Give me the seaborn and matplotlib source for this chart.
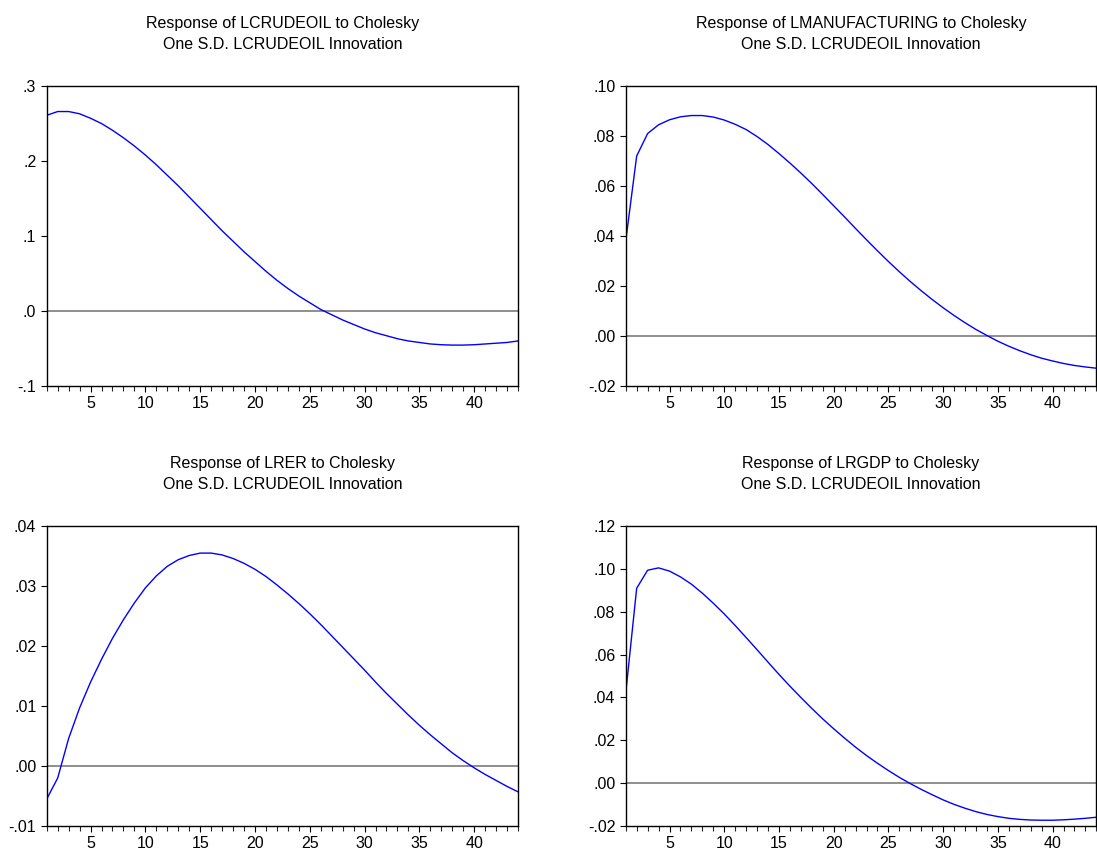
import numpy as np
import pandas as pd
import matplotlib
matplotlib.use("Agg")
import matplotlib.pyplot as plt
import seaborn as sns
from matplotlib.ticker import FuncFormatter, MultipleLocator

# Horizontes (periodos)
periods = list(range(1, 45))

# Respostas ao impulso
lcrudeoil = [0.261, 0.266, 0.266, 0.263, 0.257, 0.250, 0.241, 0.231, 0.220, 0.208,
             0.195, 0.181, 0.167, 0.152, 0.137, 0.122, 0.107, 0.093, 0.079, 0.066,
             0.053, 0.041, 0.030, 0.020, 0.011, 0.002, -0.005, -0.012, -0.018, -0.024,
             -0.029, -0.033, -0.037, -0.040, -0.042, -0.044, -0.045, -0.0455, -0.0455, -0.045,
             -0.044, -0.043, -0.042, -0.040]
lmanufacturing = [0.038, 0.072, 0.081, 0.0845, 0.0865, 0.0877, 0.0882, 0.0882, 0.0876, 0.0864,
                  0.0847, 0.0826, 0.0798, 0.0766, 0.0730, 0.0692, 0.0652, 0.0610, 0.0566, 0.0521,
                  0.0476, 0.0430, 0.0385, 0.0341, 0.0298, 0.0257, 0.0218, 0.0181, 0.0146, 0.0113,
                  0.0082, 0.0053, 0.0026, 0.0002, -0.0021, -0.0041, -0.0059, -0.0075, -0.0089, -0.0100,
                  -0.0110, -0.0118, -0.0124, -0.0129]
lrer = [-0.0055, -0.0020, 0.0046, 0.0097, 0.0140, 0.0178, 0.0213, 0.0244, 0.0272, 0.0297,
        0.0317, 0.0333, 0.0344, 0.0351, 0.0355, 0.0355, 0.0352, 0.0346, 0.0338, 0.0328,
        0.0316, 0.0302, 0.0287, 0.0271, 0.0254, 0.0236, 0.0217, 0.0198, 0.0179, 0.0160,
        0.0140, 0.0121, 0.0103, 0.0085, 0.0068, 0.0052, 0.0037, 0.0022, 0.0009, -0.0003,
        -0.0014, -0.0024, -0.0034, -0.0043]
lrgdp = [0.042, 0.091, 0.0994, 0.1005, 0.0990, 0.0963, 0.0929, 0.0887, 0.0840, 0.0790,
         0.0736, 0.0680, 0.0623, 0.0565, 0.0508, 0.0453, 0.0400, 0.0349, 0.0300, 0.0254,
         0.0210, 0.0168, 0.0129, 0.0093, 0.0059, 0.0027, -0.0002, -0.0029, -0.0054, -0.0078,
         -0.0099, -0.0117, -0.0133, -0.0146, -0.0156, -0.0164, -0.0169, -0.0172, -0.0173, -0.0173,
         -0.0171, -0.0168, -0.0164, -0.0159]

variables = ["LCRUDEOIL", "LMANUFACTURING", "LRER", "LRGDP"]
series = [lcrudeoil, lmanufacturing, lrer, lrgdp]
y_limits = [(-0.1, 0.3), (-0.02, 0.10), (-0.01, 0.04), (-0.02, 0.12)]
y_steps = [0.1, 0.02, 0.01, 0.02]
y_decimals = [1, 2, 2, 2]

sns.set_style("ticks")
plt.rcParams['font.family'] = ['Liberation Sans', 'DejaVu Sans']

fig = plt.figure(figsize=(10.97, 8.52), dpi=100)
positions = [
    [0.0426, 0.547, 0.4296, 0.352],
    [0.5704, 0.547, 0.4290, 0.352],
    [0.0426, 0.0305, 0.4296, 0.352],
    [0.5704, 0.0305, 0.4290, 0.352],
]


def make_formatter(dec):
    def fmt(v, pos):
        s = f"{v:.{dec}f}"
        return s.replace("0.", ".", 1)
    return FuncFormatter(fmt)


for i, (name, vals) in enumerate(zip(variables, series)):
    ax = fig.add_axes(positions[i])
    df = pd.DataFrame({"periodo": periods, "resposta": vals})
    ax.axhline(0, color="#707070", lw=1.1, zorder=1)
    sns.lineplot(data=df, x="periodo", y="resposta", ax=ax, color="blue", lw=1.0, zorder=2)
    ax.set_xlim(1, 44)
    ax.set_ylim(*y_limits[i])
    ax.yaxis.set_major_locator(MultipleLocator(y_steps[i]))
    ax.yaxis.set_major_formatter(make_formatter(y_decimals[i]))
    ax.set_xticks([5, 10, 15, 20, 25, 30, 35, 40])
    ax.xaxis.set_minor_locator(MultipleLocator(1))
    ax.tick_params(axis="both", which="major", direction="out", length=4.5, width=0.8,
                   labelsize=11.5, colors="black", pad=3)
    ax.tick_params(axis="x", which="minor", direction="out", length=3.5, width=0.8)
    ax.set_xlabel("")
    ax.set_ylabel("")
    for sp in ax.spines.values():
        sp.set_visible(True)
        sp.set_color("black")
        sp.set_linewidth(1.0)
    ax.set_title(f"Response of {name} to Cholesky\nOne S.D. LCRUDEOIL Innovation",
                 fontsize=11.5, pad=27, linespacing=1.45, color="black")

plt.savefig("out.png", dpi=100)
